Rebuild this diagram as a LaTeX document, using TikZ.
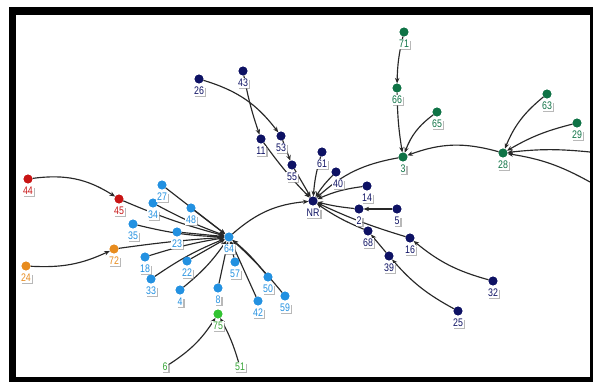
\documentclass[tikz,border=0pt]{standalone}
\usepackage{fontspec}
\newfontfamily\labfont[FakeStretch=0.8]{Liberation Sans}
\usetikzlibrary{arrows.meta,shadows}
\definecolor{navy}{RGB}{14,18,100}
\definecolor{lblue}{RGB}{35,145,225}
\definecolor{dgreen}{RGB}{15,115,70}
\definecolor{rred}{RGB}{200,20,20}
\definecolor{oorange}{RGB}{232,140,30}
\definecolor{bgreen}{RGB}{50,195,50}
\definecolor{lgreen}{RGB}{55,165,55}
\definecolor{edgec}{RGB}{40,40,40}
\tikzset{
  dotn/.style={circle, fill=#1, inner sep=0pt, minimum size=8.8pt},
  lab/.style={fill=white, text=#1, inner sep=0.9pt, font=\labfont\fontsize{11}{12}\selectfont,
    drop shadow={shadow xshift=1.4pt, shadow yshift=-1.4pt, fill=black!35, opacity=0.55}},
  ed/.style={draw=edgec, line width=1.15pt, -{Stealth[length=5.5pt,width=4.5pt]}},
}
\newcommand\gnode[5][0]{%
  \node[dotn=#5] (n#2) at (#3,#4) {};
  \node[lab=#5] (l#2) at ([xshift=#1pt,yshift=-12pt]n#2.center) {#2};}
\begin{document}
\begin{tikzpicture}[x=1pt,y=-1pt]
\useasboundingbox (0,0) rectangle (593,382);
\fill[white] (0,0) rectangle (593,382);
\fill[black] (9,7) rectangle (593,382);
\fill[white] (16,15) rectangle (590,377);

\gnode{44}{28}{179}{rred}
\gnode{45}{119}{199}{rred}
\gnode{24}{26}{266}{oorange}
\gnode{72}{114}{249}{oorange}
\gnode{27}{162}{185}{lblue}
\gnode{34}{153}{203}{lblue}
\gnode{48}{191}{208}{lblue}
\gnode{35}{133}{224}{lblue}
\gnode{23}{177}{232}{lblue}
\gnode{64}{229}{237}{lblue}
\gnode{18}{145}{257}{lblue}
\gnode{22}{187}{261}{lblue}
\gnode{33}{151}{279}{lblue}
\gnode{57}{235}{262}{lblue}
\gnode{4}{180}{290}{lblue}
\gnode{8}{218}{288}{lblue}
\gnode{50}{268}{277}{lblue}
\gnode{42}{258}{301}{lblue}
\gnode{59}{285}{296}{lblue}
\node[dotn=bgreen] (n75) at (218,314) {};
\node[lab=lgreen] (l75) at ([yshift=-12pt]n75.center) {75};
\node[lab=lgreen] (l6) at (165,367) {6};
\node[lab=lgreen] (l51) at (240,367) {51};
\gnode{NR}{313}{201}{navy}
\gnode{61}{322}{152}{navy}
\gnode[2]{40}{336}{172}{navy}
\gnode{14}{367}{186}{navy}
\gnode{2}{359}{209}{navy}
\gnode{5}{397}{209}{navy}
\gnode{68}{368}{231}{navy}
\gnode{16}{410}{238}{navy}
\gnode{39}{389}{256}{navy}
\gnode{32}{493}{281}{navy}
\gnode{25}{458}{311}{navy}
\gnode{55}{292}{165}{navy}
\gnode{53}{281}{136}{navy}
\gnode{11}{261}{139}{navy}
\gnode{26}{199}{79}{navy}
\gnode{43}{243}{71}{navy}
\gnode{3}{403}{157}{dgreen}
\gnode{66}{397}{88}{dgreen}
\gnode{71}{404}{32}{dgreen}
\gnode{65}{437}{112}{dgreen}
\gnode{28}{503}{153}{dgreen}
\gnode{63}{547}{94}{dgreen}
\gnode{29}{577}{123}{dgreen}
\coordinate (rin1) at (590,152);
\coordinate (rin2) at (590,182);

% edges
\draw[ed] (n44) to[bend left=20] (n45);
\draw[ed] (n24) to[bend right=14] (n72);
\draw[ed] (n45) to[bend right=4] (n64);
\draw[ed] (n72) to[bend left=2] (n64);
\draw[ed] (n27) to (n64);
\draw[ed] (n34) to[bend right=4] (n64);
\draw[ed] (n48) to (n64);
\draw[ed] (n35) to[bend right=6] (n64);
\draw[ed] (n23) to (n64);
\draw[ed] (n18) to[bend left=4] (n64);
\draw[ed] (n22) to (n64);
\draw[ed] (n33) to[bend left=6] (n64);
\draw[ed] (n4) to[bend right=8] (n64);
\draw[ed] (n8) to (n64);
\draw[ed] (n57) to (n64);
\draw[ed] (n50) to[bend right=6] (n64);
\draw[ed] (n59) to[bend right=4] (n64);
\draw[ed] (n42) to (n64);
\draw[ed] (l6) to[bend right=12] (n75);
\draw[ed] (l51) to[bend right=6] (n75);
\draw[ed] (n64) to[bend left=18] (nNR);
\draw[ed] (n26) to[bend left=18] (n53);
\draw[ed] (n43) to[bend right=4] (n11);
\draw[ed] (n53) to (n55);
\draw[ed] (n55) to (nNR);
\draw[ed] (n11) to[bend right=4] (nNR);
\draw[ed] (n61) to[bend right=6] (nNR);
\draw[ed] (n40) to[bend right=6] (nNR);
\draw[ed] (n14) to[bend right=8] (nNR);
\draw[ed] (n5) to (n2);
\draw[ed] (n2) to[bend left=4] (nNR);
\draw[ed] (n39) to (n68);
\draw[ed] (n68) to[bend left=6] (nNR);
\draw[ed] (n16) to[bend left=4] (nNR);
\draw[ed] (n25) to[bend left=10] (n39);
\draw[ed] (n32) to[bend left=12] (n16);
\draw[ed] (n3) to[bend right=16] (nNR);
\draw[ed] (n71) to[bend right=6] (n66);
\draw[ed] (n66) to[bend right=4] (n3);
\draw[ed] (n65) to[bend right=16] (n3);
\draw[ed] (n28) to[bend right=18] (n3);
\draw[ed] (n63) to[bend right=14] (n28);
\draw[ed] (n29) to[bend right=8] (n28);
\draw[ed] (rin1) to[bend right=6] (n28);
\draw[ed] (rin2) to[bend right=10] (n28);

% dots and labels on top of edges
\foreach \n/\c in {44/rred,45/rred,24/oorange,72/oorange,27/lblue,34/lblue,48/lblue,35/lblue,23/lblue,64/lblue,18/lblue,22/lblue,33/lblue,57/lblue,4/lblue,8/lblue,50/lblue,42/lblue,59/lblue,NR/navy,61/navy,40/navy,14/navy,2/navy,5/navy,68/navy,16/navy,39/navy,32/navy,25/navy,55/navy,53/navy,11/navy,26/navy,43/navy,3/dgreen,66/dgreen,71/dgreen,65/dgreen,28/dgreen,63/dgreen,29/dgreen,75/bgreen}
  {\fill[\c] (n\n.center) circle (4.4pt);}
\foreach \n/\c in {44/rred,45/rred,24/oorange,72/oorange,27/lblue,34/lblue,48/lblue,35/lblue,23/lblue,64/lblue,18/lblue,22/lblue,33/lblue,57/lblue,4/lblue,8/lblue,50/lblue,42/lblue,59/lblue,NR/navy,61/navy,40/navy,14/navy,2/navy,5/navy,68/navy,16/navy,39/navy,32/navy,25/navy,55/navy,53/navy,11/navy,26/navy,43/navy,3/dgreen,66/dgreen,71/dgreen,65/dgreen,28/dgreen,63/dgreen,29/dgreen,75/lgreen,6/lgreen,51/lgreen}
  {\node[lab=\c] at (l\n.center) {\n};}
\fill[black] (590,15) rectangle (593,377);
\end{tikzpicture}
\end{document}
